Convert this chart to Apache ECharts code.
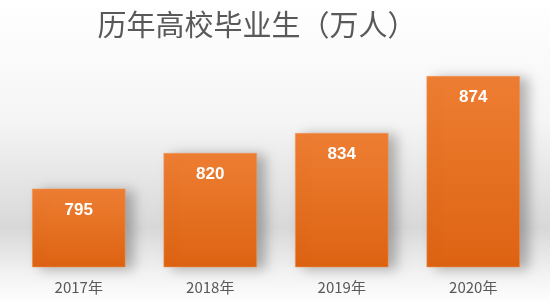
<!DOCTYPE html>
<html><head><meta charset="utf-8">
<script src="https://cdn.jsdelivr.net/npm/echarts@6/dist/echarts.min.js"></script>
<style>html,body{margin:0;padding:0;}#c{width:550px;height:304px;}</style>
</head><body><div id="c"></div>
<script>
var categories = ['2017年', '2018年', '2019年', '2020年'];
var values = [795, 820, 834, 874];
var titleText = '历年高校毕业生（万人）';

var chart = echarts.init(document.getElementById('c'), null, {renderer: 'canvas'});
chart.setOption({
  animation: false,
  backgroundColor: new echarts.graphic.LinearGradient(0, 0, 0, 1, [
    {offset: 0, color: '#ffffff'},
    {offset: 0.4, color: '#f5f5f5'},
    {offset: 0.75, color: '#d8d8d8'},
    {offset: 0.9, color: '#f2f2f2'},
    {offset: 1, color: '#ffffff'}
  ]),
  title: {
    text: titleText,
    left: 252, textAlign: 'center', top: 5,
    textStyle: {fontFamily: 'Noto Sans CJK SC', fontSize: 29, fontWeight: 'normal', color: '#595959'}
  },
  grid: {left: 13, right: 11, top: 39, bottom: 37},
  xAxis: {
    type: 'category', data: categories,
    axisLine: {show: false}, axisTick: {show: false},
    axisLabel: {color: '#595959', fontSize: 15, margin: 13, fontFamily: 'Noto Sans CJK SC'}
  },
  yAxis: {
    type: 'value', min: 740, max: 900, show: false, splitLine: {show: false}
  },
  series: [{
    type: 'bar', data: values, barWidth: '71%',
    itemStyle: {
      color: new echarts.graphic.LinearGradient(0, 0, 0, 1, [
        {offset: 0, color: '#ee7e33'},
        {offset: 1, color: '#dd6312'}
      ]),
      borderColor: '#f09a5c', borderWidth: 0.5,
      shadowColor: 'rgba(0,0,0,0.28)', shadowBlur: 12, shadowOffsetX: 8, shadowOffsetY: 2
    },
    label: {
      show: true, position: 'insideTop', distance: 13,
      color: '#ffffff', fontSize: 17, fontWeight: 'bold', fontFamily: 'Liberation Sans'
    }
  }]
});
</script></body></html>
